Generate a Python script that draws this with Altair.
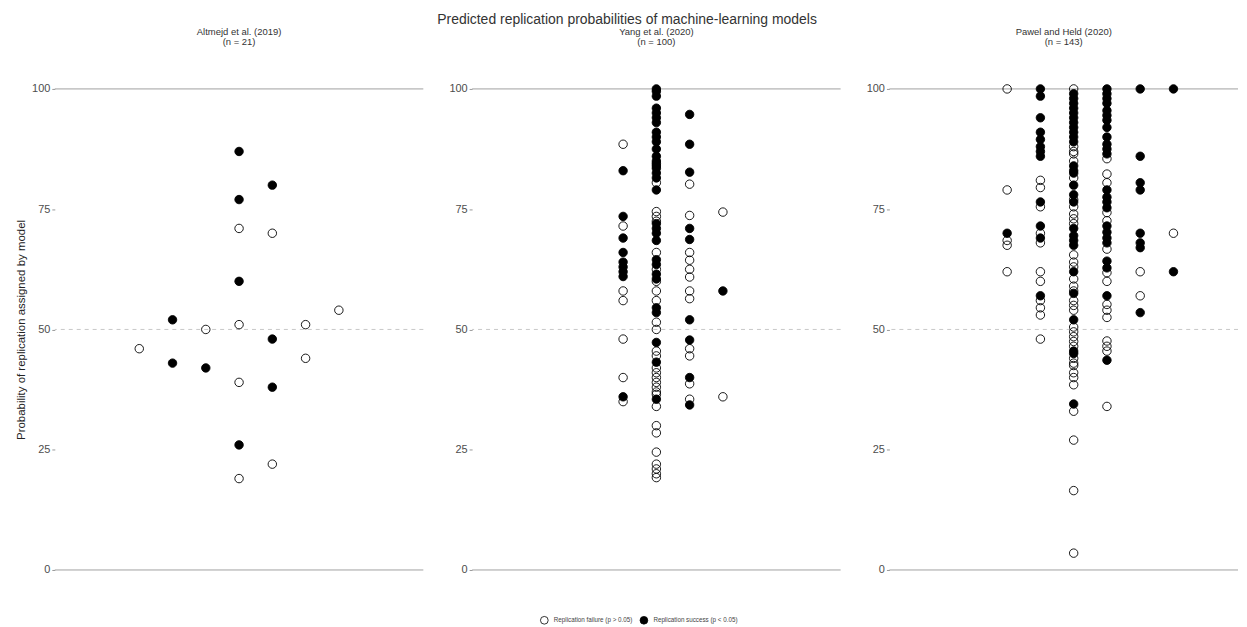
import altair as alt
import pandas as pd

FONT = "Liberation Sans"

main_title = "Predicted replication probabilities of machine-learning models"
studies = ["Altmejd et al. (2019)", "Yang et al. (2020)", "Pawel and Held (2020)"]
n_labels = ["(n = 21)", "(n = 100)", "(n = 143)"]
outcome_labels = ["Replication failure (p > 0.05)", "Replication success (p < 0.05)"]
y_ticks = [0, 25, 50, 75, 100]
solid_lines = [0, 100]
dashed_lines = [50]

# ---- Altmejd et al. (2019) ----
altmejd_col = [-3, -2, -2, -1, -1, 0, 0, 0, 0, 0, 0, 0, 0, 1, 1, 1, 1, 1, 2, 2, 3]
altmejd_prob = [46, 52, 43, 50, 42, 87, 77, 71, 60, 51, 39, 26, 19, 80, 70, 48, 38, 22, 51, 44, 54]
altmejd_succ = [0, 1, 1, 0, 1, 1, 1, 0, 1, 0, 0, 1, 0, 1, 0, 1, 1, 0, 0, 0, 0]

# ---- Yang et al. (2020) ----
yang_m1_prob = [88.5, 83, 73.5, 71.5, 69, 66, 64, 63, 62, 61, 58, 56, 48, 40, 36, 35]
yang_m1_succ = [0, 1, 1, 0, 1, 1, 1, 1, 1, 1, 0, 0, 0, 0, 1, 0]
yang_0_prob = [100, 99.5, 98.5, 96, 95, 94, 93, 91, 90, 89, 87.5, 86, 85, 84.5, 84, 83.5, 82.5, 81.5, 79,
               80.5, 74.5, 73.5, 72.5, 72, 71, 70, 68.5, 66,
               64.5, 63.5, 62.5, 61.5, 60.5, 60, 58, 56, 54.5, 53.5, 51.5, 50, 47.3, 45.5, 44.5, 43.2,
               42, 41, 40, 39, 38, 37, 36.5, 35.5, 34, 30, 28.5, 24.5, 22, 21, 20, 19.2]
yang_0_succ = [1] * 19 + [0] + [0, 0, 0, 1, 1, 1, 1, 0] + [1, 1, 0, 1, 1, 0] + [0, 0] + [1, 1] + [0, 0] + [1] \
    + [0, 0] + [1] + [0, 0, 0, 0, 0, 0, 0, 1, 0] + [0, 0] + [0] + [0, 0, 0, 0]
yang_1_prob = [94.7, 88.5, 82.7, 80.2, 73.7, 71, 68.7, 66, 64.4, 62.5, 60.9, 58, 56.4, 52, 47.8, 46, 44.5,
               40, 38.7, 35.5, 34.3]
yang_1_succ = [1, 1, 1, 0, 0, 1, 1, 0, 0, 0, 0, 0, 0, 1, 1, 0, 0, 1, 0, 0, 1]
yang_2_prob = [74.4, 58, 36]
yang_2_succ = [0, 1, 0]

# ---- Pawel and Held (2020) ----
pawel_m2_prob = [100, 79, 70, 68.5, 67.5, 62]
pawel_m2_succ = [0, 0, 1, 0, 0, 0]
pawel_m1_prob = [100, 98.5, 94, 91, 89.5, 88, 87, 86, 81, 79.5, 76.5, 75.5, 71.5, 70, 69, 68, 62, 60, 57, 56,
                 54.5, 53, 48]
pawel_m1_succ = [1, 1, 1, 1, 1, 1, 1, 1, 0, 0, 1, 0, 1, 0, 1, 0, 0, 0, 1, 0, 0, 0, 0]
pawel_0_prob = [100, 99, 98, 97, 96, 95, 94, 93, 92, 91, 90, 89, 88, 86.5, 85, 84, 82.5, 81.5, 80, 78,
                76.5, 75.5, 74, 73, 72, 71, 69.5, 68.5, 67.5, 64, 63, 62, 60.5, 59, 57.5, 56, 55, 54,
                52, 50.5, 48.5, 47.5, 46.5, 45.5, 45, 44, 43, 42.5, 41, 40, 38.5, 34.5, 33, 27, 16.5, 3.5,
                87, 83, 77, 65.5, 58, 49.5]
pawel_0_succ = [0, 1, 1, 1, 1, 1, 1, 1, 1, 1, 1, 1, 0, 0, 0, 1, 1, 0, 1, 1, 1, 0, 0, 0, 0, 1, 1, 1, 1,
                0, 0, 1, 0, 0, 1, 0, 0, 0, 1, 0, 0, 0, 0, 1, 1, 0, 0, 0, 0, 0, 0, 1, 0, 0, 0, 0,
                0, 1, 0, 0, 0, 0]
pawel_1_prob = [100, 99, 98, 97, 95.5, 94.5, 93.5, 92, 90, 88.5, 87.5, 86.5, 85.5, 82.3, 80.5, 79, 77.5,
                76.5, 75.3, 74.3, 72.6, 71.5, 70.2, 69, 68, 66.7, 64.2, 62.8, 61.8, 60, 57, 55.2, 54,
                52.5, 47.6, 46.5, 45.5, 43.6, 34]
pawel_1_succ = [1, 1, 1, 1, 1, 1, 1, 1, 1, 1, 1, 1, 0, 0, 0, 1, 1, 1, 1, 0, 0, 1, 1, 1, 1, 0, 1, 1, 0, 0,
                1, 0, 0, 0, 0, 0, 0, 1, 0]
pawel_2_prob = [100, 86, 80.5, 79, 70, 68, 67, 62, 57, 53.5]
pawel_2_succ = [1, 1, 1, 1, 1, 1, 1, 0, 0, 1]
pawel_3_prob = [100, 70, 62]
pawel_3_succ = [1, 0, 1]


def frame(groups):
    rows = []
    for col, probs, succs in groups:
        cols = col if isinstance(col, list) else [col] * len(probs)
        for c, p, s in zip(cols, probs, succs):
            rows.append({"col": c, "prob": p, "outcome": outcome_labels[s]})
    return pd.DataFrame(rows)


panel_data = [
    frame([(altmejd_col, altmejd_prob, altmejd_succ)]),
    frame([(-1, yang_m1_prob, yang_m1_succ), (0, yang_0_prob, yang_0_succ),
           (1, yang_1_prob, yang_1_succ), (2, yang_2_prob, yang_2_succ)]),
    frame([(-2, pawel_m2_prob, pawel_m2_succ), (-1, pawel_m1_prob, pawel_m1_succ),
           (0, pawel_0_prob, pawel_0_succ), (1, pawel_1_prob, pawel_1_succ),
           (2, pawel_2_prob, pawel_2_succ), (3, pawel_3_prob, pawel_3_succ)]),
]

W = 370
H = 483
UNIT = 33.4
half = W / UNIT / 2
widths = [W, W, 350]


def panel(i):
    df = panel_data[i]
    w = widths[i]
    yaxis = alt.Axis(values=y_ticks, grid=False, domain=False, tickColor="#999999", tickSize=3,
                     labelFontSize=11, labelColor="#4d4d4d", labelFont=FONT, labelPadding=2,
                     title="Probability of replication assigned by model" if i == 0 else None,
                     titleFont=FONT, titleFontSize=11.5, titleFontWeight="normal", titleColor="#222222",
                     titlePadding=5)
    yscale = alt.Scale(domain=[0, 100], nice=False, zero=False)
    xscale = alt.Scale(domain=[-half, -half + w / UNIT], nice=False, zero=False)

    solid = alt.Chart(pd.DataFrame({"v": solid_lines})).mark_rule(color="#a0a0a0", strokeWidth=1).encode(
        y=alt.Y("v:Q", scale=yscale, axis=yaxis))
    dashed = alt.Chart(pd.DataFrame({"v": dashed_lines})).mark_rule(
        color="#c8c8c8", strokeWidth=1, strokeDash=[4, 4]).encode(y=alt.Y("v:Q", scale=yscale, axis=yaxis))
    pts = alt.Chart(df).mark_point(shape="circle", size=72, strokeWidth=0.9, stroke="black",
                                   opacity=1, fillOpacity=1).encode(
        x=alt.X("col:Q", scale=xscale, axis=None),
        y=alt.Y("prob:Q", scale=yscale, axis=yaxis),
        fill=alt.Fill("outcome:N",
                      scale=alt.Scale(domain=outcome_labels, range=["rgba(255,255,255,0)", "black"]),
                      legend=alt.Legend(title=None, orient="none", direction="horizontal",
                                        legendX=487, legendY=H + 46, labelFont=FONT, labelFontSize=6.3,
                                        labelColor="#444444", symbolSize=60, symbolStrokeWidth=0.8,
                                        columnPadding=6, labelLimit=200, labelOffset=5)),
    )
    return alt.layer(solid, dashed, pts).properties(
        width=w, height=H,
        title=alt.TitleParams(text=[studies[i], n_labels[i]], fontSize=9.5, font=FONT, fontWeight="normal",
                              color="#333333", anchor="middle", offset=37, lineHeight=10),
    )


chart = alt.hconcat(panel(0), panel(1), panel(2), spacing=24).properties(
    padding={"left": 7, "top": 3, "right": 0, "bottom": 0},
    title=alt.TitleParams(text=main_title, fontSize=14, font=FONT, fontWeight="normal", color="#333333",
                          anchor="middle", offset=0),
).configure_view(stroke=None)

chart.save("out.html", embed_options={"renderer": "svg", "actions": False})
